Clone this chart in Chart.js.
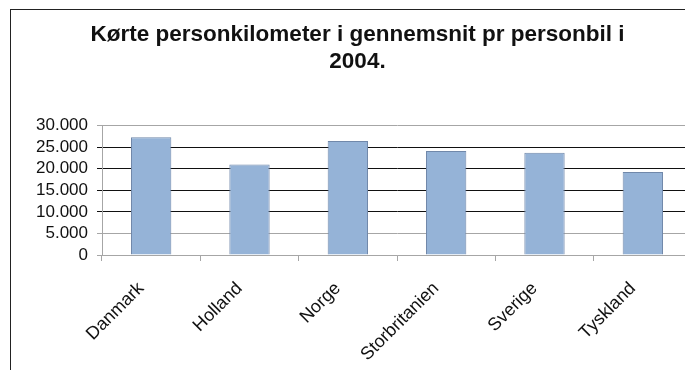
<!DOCTYPE html>
<html>
<head>
<meta charset="utf-8">
<script src="https://cdn.jsdelivr.net/npm/chart.js@4/dist/chart.umd.min.js"></script>
<style>
  html, body { margin: 0; padding: 0; background: #fff; overflow: hidden; }
  body { width: 685px; height: 370px; position: relative; }
  #ramme { position: absolute; left: 10px; top: 9px; width: 720px; height: 400px;
           border-left: 1px solid #222; border-top: 1px solid #222; }
  #graf { position: absolute; left: 11px; top: 10px; }
</style>
</head>
<body>
<div id="ramme"></div>
<canvas id="graf" width="692" height="360"></canvas>
<script>
var lande = ["Danmark", "Holland", "Norge", "Storbritanien", "Sverige", "Tyskland"];
var kmPrBil = [27300, 21000, 26450, 24100, 23700, 19250];
var yMaks = 30000;
var ySkridt = 5000;

function tusind(v) {
    return String(v).replace(/\B(?=(\d{3})+(?!\d))/g, '.');
}

var skrift = "'Liberation Sans', Arial, sans-serif";

new Chart(document.getElementById("graf"), {
    type: 'bar',
    data: {
        labels: lande,
        datasets: [
            {
                label: "Personkilometer",
                backgroundColor: "#95b3d7",
                borderColor: "#7088aa",
                borderWidth: 1,
                categoryPercentage: 1,
                barPercentage: 0.41,
                data: kmPrBil
            }
        ]
    },
    options: {
        responsive: false,
        animation: false,
        devicePixelRatio: 1,
        layout: { padding: { left: 12, right: 11, top: 0, bottom: 0 } },
        plugins: {
            legend: { display: false },
            tooltip: { enabled: false },
            title: {
                display: true,
                text: ['Kørte personkilometer i gennemsnit pr personbil i', '2004.'],
                color: '#111',
                font: { family: skrift, size: 22.5, weight: 'bold', lineHeight: 1.17 },
                padding: { top: 12, bottom: 51 }
            }
        },
        scales: {
            x: {
                grid: {
                    offset: true,
                    drawOnChartArea: false,
                    drawTicks: true,
                    tickLength: 6,
                    color: '#a6a6a6'
                },
                border: { color: '#a6a6a6' },
                ticks: {
                    color: '#111',
                    font: { family: skrift, size: 18 },
                    minRotation: 45,
                    maxRotation: 45,
                    autoSkip: false,
                    labelOffset: -10,
                    padding: 17
                },
                afterFit: function (akse) { akse.height = 115; }
            },
            y: {
                min: 0,
                max: yMaks,
                grid: {
                    drawTicks: true,
                    tickLength: 5,
                    color: function (ctx) {
                        var v = ctx.tick ? ctx.tick.value : 0;
                        return (v > 5000 && v < 30000) ? '#111' : '#a6a6a6';
                    }
                },
                border: { color: '#a6a6a6' },
                ticks: {
                    stepSize: ySkridt,
                    autoSkip: false,
                    color: '#111',
                    padding: 9,
                    font: { family: skrift, size: 17 },
                    callback: function (v) { return tusind(v); }
                },
                afterFit: function (akse) { akse.width = 79; }
            }
        }
    }
});
</script>
</body>
</html>
